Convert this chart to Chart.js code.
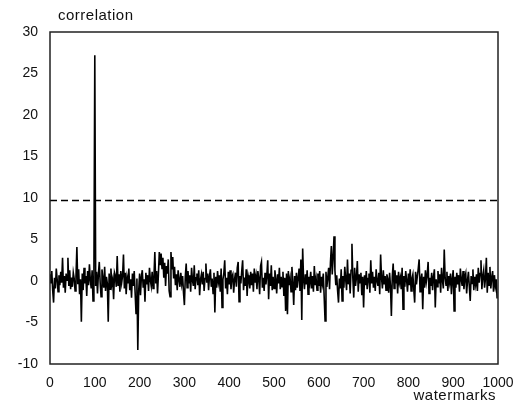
<!DOCTYPE html>
<html>
<head>
<meta charset="utf-8">
<script src="https://cdn.jsdelivr.net/npm/chart.js@4"></script>
<style>
  html, body { margin: 0; padding: 0; background: #fff; }
  #wrap { width: 532px; height: 405px; }
</style>
</head>
<body>
<div id="wrap"><canvas id="corrChart"></canvas></div>
<script>
// --- DATA ---
const xTicks = [0, 100, 200, 300, 400, 500, 600, 700, 800, 900, 1000];
const yTicks = [-10, -5, 0, 5, 10, 15, 20, 25, 30];
const threshold = 9.7;
const step = 2; // one value read every 2 watermarks
const corr = [
  0.8, -0.3, 1.2, -1.1, -2.6, 0.4, -0.9, 1.5, 0.2, -1.3, 0.7, -0.5, 1.1, -0.2, 2.8, -0.8, 0.6, -1.4, 0.9, 0.1, 2.8, -0.6, 1.3, -1.0, 0.4,
  -0.7, 1.0, 0.3, -1.2, 0.5, 4.1, -0.4, 1.4, -1.6, 0.2, -4.9, 0.9, -1.1, 1.6, -0.3, 0.6, -1.8, 1.2, -0.5, 2.0, 0.1, -0.9, 1.3, -2.4, 0.5,
  27.2, -0.6, 1.1, -1.5, 0.8, 2.3, -0.2, -1.9, 1.4, 0.3, -0.8, 1.7, -1.2, 0.5, -0.3, -4.9, 0.9, -1.0, 1.5, -0.4, 0.2, -2.2, 1.0, 0.6, -0.7,
  3.0, -0.5, 0.8, -1.3, 1.2, -0.2, 0.6, 3.2, -0.9, 1.0, -1.6, 0.4, -0.3, 1.5, -1.1, 0.2, -2.0, 0.9, -0.6, 1.2, -1.4, -3.9, 0.3, -8.3, -1.2,
  0.9, -1.7, 0.5, 1.3, -0.8, 0.2, -2.5, 1.0, -0.4, 0.7, -1.2, 1.6, 0.1, -0.6, 1.1, -0.9, 0.4, 3.5, -0.3, 1.2, -1.5, 0.8, 3.5, 1.9, 3.3,
  1.5, 2.8, 0.4, 2.2, -0.6, 1.8, 0.9, 2.6, -1.2, -1.9, 3.5, 1.4, 2.9, 0.3, 1.7, -0.5, 0.8, -1.1, 1.3, 0.2, -0.7, 1.0, -0.3, 0.6, -1.4,
  -2.9, 0.5, 2.1, -0.8, 1.2, -0.3, 0.7, -1.3, 1.6, 0.1, -0.6, 1.9, -1.0, 0.4, 0.9, -0.5, 1.3, -1.7, 0.2, 0.8, -0.4, 1.1, -1.2, 0.3, 2.1,
  -0.2, 0.9, -1.1, 0.6, 1.4, -0.7, 0.3, -1.5, 1.0, -3.8, 0.5, -0.8, 1.2, -0.1, 0.7, -1.3, 1.5, -3.2, 0.2, 0.9, 2.5, -0.9, 0.4, -1.6, 1.1,
  -0.4, 1.3, -1.0, 0.5, 0.8, -1.4, 0.2, 1.0, -0.7, 1.6, 2.3, -2.5, 0.6, -0.3, 1.2, 2.5, -1.1, 0.4, -0.6, 1.4, -1.8, 0.7, 0.1, -0.9, 1.1,
  -0.5, 0.9, -1.3, 1.5, -0.2, 0.6, -1.0, 1.2, 0.3, -1.6, 1.8, 2.3, -0.8, 0.4, -1.2, 1.0, -0.4, 0.7, 2.5, -2.2, 0.9, -0.6, 1.9, -1.1, 0.5,
  -0.9, 1.3, 0.2, -1.5, 0.8, -0.3, 1.6, -1.0, 0.5, -0.7, 1.1, -1.8, 0.4, -3.6, 0.9, -4.0, 1.2, -0.5, 0.3, -1.3, 1.7, -0.2, -2.9, 0.6, -1.1,
  1.0, -0.8, 0.4, 1.5, -1.2, 2.6, -4.7, 3.9, 0.2, -1.0, 0.8, -0.4, 1.3, -1.6, 0.5, -0.2, 1.1, -0.9, 0.6, -1.3, 1.8, -0.5, 0.3, -1.1, 0.9,
  -0.6, 1.2, -1.4, 0.5, -0.3, 0.9, -1.9, -4.8, 1.1, -0.7, 0.4, 1.6, -1.0, 2.2, 4.2, 0.8, 2.9, 5.4, 1.3, -0.5, 0.7, -1.2, -2.6, 0.3, -0.9,
  1.4, -2.4, 0.6, -0.8, 1.7, 0.2, -1.1, 2.6, -0.4, 0.9, -1.5, 1.3, 4.5, 0.3, -2.0, 1.6, -0.6, 0.4, 2.4, -1.3, 0.8, -0.2, 1.0, -1.7, 0.5,
  -3.2, 0.7, -0.5, 1.2, -1.0, 0.3, 0.9, -1.4, 2.5, -0.3, 1.1, -0.8, 0.5, -1.2, 1.4, 0.0, -0.6, 1.0, -1.6, 3.2, 0.4, -0.9, 1.3, -0.4, 0.6,
  -1.1, 0.8, 0.2, -1.4, 1.0, -0.6, -4.2, 0.5, 2.1, -0.9, 1.3, -0.3, 0.7, -1.5, 1.1, -0.2, 0.4, -1.0, 1.6, -3.4, 0.6, -0.7, 1.2, 0.1, -1.3,
  0.9, -0.5, 1.4, -1.2, 0.3, 0.8, -1.0, -2.6, 1.1, -0.4, 0.6, 1.5, 2.6, -1.3, 0.2, 0.9, -3.4, 0.5, -0.8, 1.3, -0.1, 0.7, 2.3, -1.5, 0.4,
  -0.6, 1.0, -1.1, 0.5, 1.4, -3.2, 0.2, -0.7, 1.2, -0.3, 0.8, -1.4, 1.6, 0.1, -0.9, 3.8, 0.4, -0.5, 1.1, -1.2, 0.6, -0.2, 0.9, -1.6, 0.3,
  1.3, -3.6, 0.5, -0.8, 1.0, -0.4, 0.7, -1.3, 1.5, 0.2, -0.6, 1.2, -1.0, 0.4, 0.9, -1.5, 0.1, 1.1, -0.7, -2.4, 0.6, -0.3, 1.4, -1.1, 0.5,
  -0.4, 0.8, -1.2, 1.6, -0.2, 0.9, 2.5, -1.0, 0.6, 1.3, -0.8, 0.3, 2.8, -1.4, 1.0, -0.5, 1.7, -0.9, 0.4, 1.2, -1.3, 0.7, -0.6, 0.2, -2.1
];

const FONT = '"Liberation Sans", Arial, Helvetica, sans-serif';

// frame + axis captions
const framePlugin = {
  id: 'frame',
  afterDraw(chart) {
    const { ctx, chartArea: a } = chart;
    ctx.save();
    ctx.strokeStyle = '#222';
    ctx.lineWidth = 1.5;
    ctx.strokeRect(a.left, a.top, a.right - a.left, a.bottom - a.top);
    ctx.fillStyle = '#111';
    ctx.font = '15px ' + FONT;
    ctx.letterSpacing = '0.5px';
    ctx.textBaseline = 'middle';
    ctx.textAlign = 'left';
    ctx.fillText('correlation', 58, 16);
    ctx.textAlign = 'right';
    ctx.fillText('watermarks', 496, 396);
    ctx.restore();
  }
};

new Chart(document.getElementById('corrChart'), {
  type: 'line',
  data: {
    datasets: [
      {
        data: corr.map((v, i) => ({ x: i * step, y: v })),
        borderColor: '#000',
        borderWidth: 1.6,
        pointRadius: 0,
        tension: 0
      },
      {
        data: [{ x: xTicks[0], y: threshold }, { x: xTicks[xTicks.length - 1], y: threshold }],
        borderColor: '#000',
        borderWidth: 1.3,
        borderDash: [7, 4],
        pointRadius: 0
      }
    ]
  },
  options: {
    responsive: true,
    maintainAspectRatio: false,
    animation: false,
    layout: { padding: { top: 32, right: 34, left: 0, bottom: 0 } },
    plugins: { legend: { display: false }, tooltip: { enabled: false } },
    scales: {
      x: {
        type: 'linear',
        min: 0, max: 1000,
        afterBuildTicks: s => { s.ticks = xTicks.map(v => ({ value: v })); },
        afterFit: s => { s.height = 41; },
        grid: { display: false, drawTicks: false },
        border: { display: false },
        ticks: { color: '#111', font: { family: FONT, size: 14 }, padding: 11, maxRotation: 0, autoSkip: false, callback: v => String(v) }
      },
      y: {
        min: -10, max: 30,
        afterBuildTicks: s => { s.ticks = yTicks.map(v => ({ value: v })); },
        afterFit: s => { s.width = 50; },
        grid: { display: false, drawTicks: false },
        border: { display: false },
        ticks: { color: '#111', font: { family: FONT, size: 14 }, padding: 12, callback: v => String(v) }
      }
    }
  },
  plugins: [framePlugin]
});
</script>
</body>
</html>
